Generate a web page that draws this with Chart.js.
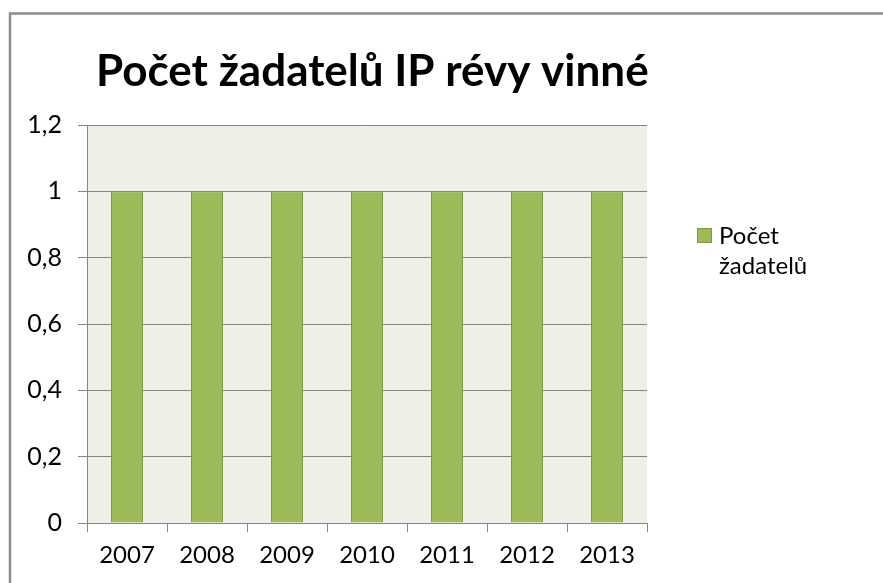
<!DOCTYPE html>
<html><head><meta charset="utf-8">
<script src="https://cdn.jsdelivr.net/npm/chart.js@4"></script>
<style>html,body{margin:0;padding:0;background:#fff}#wrap{position:relative;width:883px;height:583px}</style>
</head><body><div id="wrap"><canvas id="c" width="883" height="583"></canvas></div>
<script>
const chartTitle = 'Počet žadatelů IP révy vinné';
const categories = ['2007', '2008', '2009', '2010', '2011', '2012', '2013'];
const seriesLabelLines = ['Počet', 'žadatelů'];
const seriesValues = [1, 1, 1, 1, 1, 1, 1];
const yTickValues = [0, 0.2, 0.4, 0.6, 0.8, 1, 1.2];

const FONT = "Lato, 'Open Sans', sans-serif";
const GRID = '#868686';
const BAR_FILL = '#9bbb59';
const BAR_EDGE = '#7b9a42';

const decor = {
  id: 'decor',
  beforeDraw(chart) {
    const ctx = chart.ctx, a = chart.chartArea;
    ctx.save();
    ctx.fillStyle = '#ffffff';
    ctx.fillRect(0, 0, chart.width, chart.height);
    ctx.fillStyle = '#eef0e8';
    ctx.fillRect(a.left, a.top, a.right - a.left, a.bottom - a.top);
    ctx.strokeStyle = '#8c8c8c';
    ctx.lineWidth = 2.5;
    ctx.strokeRect(10, 13.5, 1000, 1000);
    ctx.restore();
  },
  afterDraw(chart) {
    const ctx = chart.ctx;
    ctx.save();
    ctx.fillStyle = '#000';
    ctx.font = "bold 44px " + FONT;
    ctx.textAlign = 'left';
    ctx.textBaseline = 'alphabetic';
    ctx.fillText(chartTitle, 96, 86);
    // legend
    const ds = chart.data.datasets[0];
    ctx.fillStyle = ds.backgroundColor;
    ctx.fillRect(697, 228, 15, 15);
    ctx.strokeStyle = ds.borderColor;
    ctx.lineWidth = 1;
    ctx.strokeRect(697.5, 228.5, 14, 14);
    ctx.fillStyle = '#000';
    ctx.font = "24px " + FONT;
    ctx.textAlign = 'left';
    seriesLabelLines.forEach((t, i) => ctx.fillText(t, 719, 244 + i * 30));
    ctx.restore();
  }
};

new Chart(document.getElementById('c'), {
  type: 'bar',
  data: {
    labels: categories,
    datasets: [{
      label: seriesLabelLines.join(' '),
      data: seriesValues,
      backgroundColor: BAR_FILL,
      borderColor: BAR_EDGE,
      borderWidth: 1,
      categoryPercentage: 1,
      barPercentage: 0.4
    }]
  },
  options: {
    responsive: false,
    animation: false,
    devicePixelRatio: 1,
    layout: { padding: { top: 125, right: 236, bottom: 0, left: 0 } },
    plugins: { legend: { display: false }, title: { display: false }, tooltip: { enabled: false } },
    scales: {
      y: {
        min: 0, max: 1.2,
        afterBuildTicks(s) { s.ticks = yTickValues.map(v => ({ value: v })); },
        afterFit(s) { s.width = 87; },
        ticks: {
          padding: 16, color: '#000',
          font: { family: FONT, size: 25 },
          callback: v => String(Math.round(v * 10) / 10).replace('.', ',')
        },
        grid: { color: GRID, tickLength: 9 },
        border: { color: GRID }
      },
      x: {
        afterFit(s) { s.height = 60; },
        ticks: { padding: 9, color: '#000', font: { family: FONT, size: 24 } },
        grid: { offset: true, drawOnChartArea: false, color: GRID, tickLength: 9 },
        border: { color: GRID }
      }
    }
  },
  plugins: [decor]
});
</script></body></html>
